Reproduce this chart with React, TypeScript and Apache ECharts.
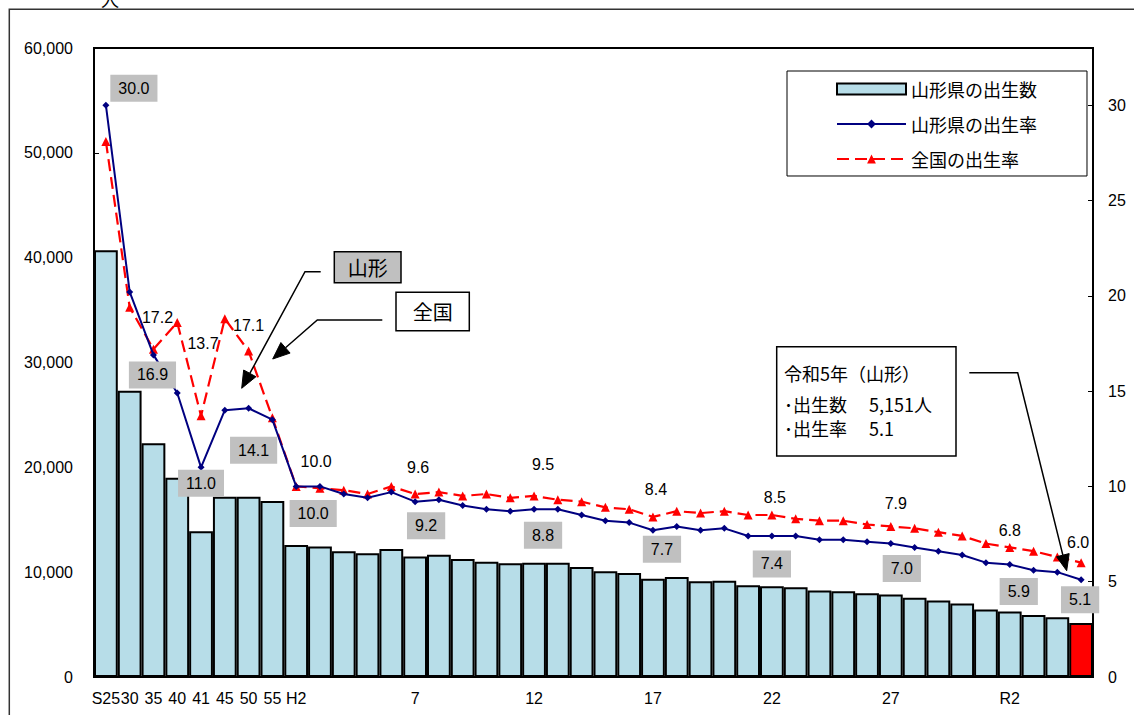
import React, { useEffect, useRef } from "react";
import * as echarts from "echarts";

const categories = [
  "S25", "30", "35", "40", "41", "45", "50", "55",
  "H2", "3", "4", "5", "6", "7", "8", "9", "10", "11", "12", "13", "14", "15", "16", "17", "18", "19", "20",
  "21", "22", "23", "24", "25", "26", "27", "28", "29", "30",
  "R1", "R2", "R3", "R4", "R5",
];

const births = [
  40700, 27300, 22300, 19000, 13900, 17200, 17200, 16800,
  12600, 12450, 12000, 11800, 12200, 11500, 11650, 11250, 11000, 10850, 10900, 10900, 10500, 10080, 9920,
  9380, 9540, 9130, 9190, 8750, 8650, 8560, 8240, 8170, 7980, 7860, 7550, 7290, 7000,
  6430, 6240, 5920, 5690, 5151,
];

const yamagataRate = [
  30.0, 20.2, 16.9, 14.9, 11.0, 14.0, 14.1, 13.5,
  10.0, 10.0, 9.6, 9.4, 9.7, 9.2, 9.3, 9.0, 8.8, 8.7, 8.8, 8.8, 8.5, 8.2, 8.1, 7.7, 7.9, 7.7, 7.8,
  7.4, 7.4, 7.4, 7.2, 7.2, 7.1, 7.0, 6.8, 6.6, 6.4,
  6.0, 5.9, 5.6, 5.5, 5.1,
];

const nationalRate = [
  28.1, 19.4, 17.2, 18.6, 13.7, 18.8, 17.1, 13.6,
  10.0, 9.9, 9.8, 9.6, 10.0, 9.6, 9.7, 9.5, 9.6, 9.4, 9.5, 9.3, 9.2, 8.9, 8.8, 8.4, 8.7, 8.6, 8.7,
  8.5, 8.5, 8.3, 8.2, 8.2, 8.0, 7.9, 7.8, 7.6, 7.4,
  7.0, 6.8, 6.6, 6.3, 6.0,
];

const seriesNames = ["山形県の出生数", "山形県の出生率", "全国の出生率"];

// label placement (offset of the label centre from its point)
const yamagataLabelOffsets: Record<number, [number, number]> = {
  0: [28, -17], 2: [-1, 20], 4: [0, 16], 6: [5, 42], 8: [17, 27], 13: [11, 24],
  18: [9, 26], 23: [9, 19], 28: [0, 28], 33: [11, 25], 38: [9, 27], 41: [-1, 20],
};
const nationalLabelOffsets: Record<number, [number, number]> = {
  2: [4, -32], 4: [2, -72], 6: [0, -26], 8: [20, -25], 13: [3, -27], 18: [9, -31],
  23: [3, -27], 28: [3, -17], 33: [5, -23], 38: [0, -17], 41: [-3, -20],
};

const FONT = "'Liberation Sans', 'Noto Sans CJK JP', sans-serif";
const JFONT = "'Noto Sans CJK JP', 'Liberation Sans', sans-serif";

function arrow(points: number[][], len: number, half: number) {
  const tip = points[points.length - 1];
  const from = points[points.length - 2];
  const dx = tip[0] - from[0];
  const dy = tip[1] - from[1];
  const d = Math.hypot(dx, dy);
  const ux = dx / d;
  const uy = dy / d;
  const bx = tip[0] - ux * len;
  const by = tip[1] - uy * len;
  const linePts = points.slice(0, -1).concat([[bx, by]]);
  const head = [
    [tip[0], tip[1]],
    [bx - uy * half, by + ux * half],
    [bx + uy * half, by - ux * half],
  ];
  return [
    { type: "polyline", z: 100, shape: { points: linePts }, style: { stroke: "#000", lineWidth: 1.5, fill: null } },
    { type: "polygon", z: 100, shape: { points: head }, style: { fill: "#000", stroke: "#000", lineWidth: 1 } },
  ];
}

export default function App() {
  const ref = useRef<HTMLDivElement>(null);

  useEffect(() => {
    if (!ref.current) return;
    const chart = echarts.init(ref.current, null, { renderer: "svg" });

    const barData = births.map((v, i) =>
      i === births.length - 1 ? { value: v, itemStyle: { color: "#ff0000" } } : v
    );

    const yamaData = yamagataRate.map((v, i) => {
      const off = yamagataLabelOffsets[i];
      if (!off) return v;
      return {
        value: v,
        label: {
          show: true,
          position: "inside",
          offset: off,
          formatter: (p: any) => Number(p.value).toFixed(1),
          backgroundColor: "#c0c0c0",
          padding: [6, 8, 5, 8],
          color: "#000",
          fontSize: 16,
          fontFamily: FONT,
        },
      };
    });

    const natData = nationalRate.map((v, i) => {
      const off = nationalLabelOffsets[i];
      if (!off) return v;
      return {
        value: v,
        label: {
          show: true,
          position: "inside",
          offset: off,
          formatter: (p: any) => Number(p.value).toFixed(1),
          color: "#000",
          fontSize: 16,
          fontFamily: FONT,
        },
      };
    });

    const graphics: any[] = [
      {
        type: "rect",
        z: 0,
        silent: true,
        shape: { x: 9.3, y: 9.3, width: 1300, height: 900 },
        style: { fill: null, stroke: "#333", lineWidth: 1.5 },
      },
      {
        type: "text",
        z: 100,
        x: 110,
        y: 8,
        style: { text: "人", fontSize: 18, fontFamily: JFONT, fill: "#000", align: "center", verticalAlign: "bottom" },
      },
      // 山形 box
      {
        type: "rect",
        z: 100,
        shape: { x: 334.3, y: 251.7, width: 66.7, height: 31 },
        style: { fill: "#c0c0c0", stroke: "#000", lineWidth: 1.5 },
      },
      {
        type: "text",
        z: 101,
        x: 367.7,
        y: 267.5,
        style: { text: "山形", fontSize: 20, fontFamily: JFONT, fill: "#000", align: "center", verticalAlign: "middle" },
      },
      ...arrow([[320.7, 271.7], [305, 271.7], [241.7, 388.3]], 17, 7),
      // 全国 box
      {
        type: "rect",
        z: 100,
        shape: { x: 396, y: 292.3, width: 73.3, height: 38.4 },
        style: { fill: "#fff", stroke: "#000", lineWidth: 1.5 },
      },
      {
        type: "text",
        z: 101,
        x: 432.7,
        y: 311.5,
        style: { text: "全国", fontSize: 20, fontFamily: JFONT, fill: "#000", align: "center", verticalAlign: "middle" },
      },
      ...arrow([[382.3, 320], [317.3, 320], [272.7, 359]], 17, 7),
      // 令和5年 box
      {
        type: "rect",
        z: 100,
        shape: { x: 776.7, y: 346.7, width: 179.3, height: 109.3 },
        style: { fill: "#fff", stroke: "#000", lineWidth: 1.5 },
      },
      {
        type: "text",
        z: 101,
        x: 784,
        y: 373,
        style: { text: "令和5年（山形）", fontSize: 18, fontFamily: JFONT, fill: "#000", align: "left", verticalAlign: "middle" },
      },
      {
        type: "text",
        z: 101,
        x: 784,
        y: 403.5,
        style: { text: "･出生数　 5,151人", fontSize: 18, fontFamily: JFONT, fill: "#000", align: "left", verticalAlign: "middle" },
      },
      {
        type: "text",
        z: 101,
        x: 784,
        y: 427.5,
        style: { text: "･出生率　 5.1", fontSize: 18, fontFamily: JFONT, fill: "#000", align: "left", verticalAlign: "middle" },
      },
      ...arrow([[969.3, 372.7], [1017.7, 372.7], [1066.7, 570.7]], 16, 6.5),
    ];

    chart.setOption({
      animation: false,
      backgroundColor: "#fff",
      textStyle: { fontFamily: FONT, color: "#000" },
      grid: {
        left: 94,
        right: 41,
        top: 48,
        bottom: 38,
        show: true,
        borderColor: "#000",
        borderWidth: 2,
        backgroundColor: "transparent",
      },
      legend: {
        orient: "vertical",
        left: 787,
        top: 71,
        data: [{ name: seriesNames[0], icon: "rect" }, { name: seriesNames[1] }, { name: seriesNames[2] }],
        itemWidth: 69,
        itemHeight: 11,
        itemGap: 17,
        padding: [9, 50, 8, 49],
        borderColor: "#000",
        borderWidth: 1,
        backgroundColor: "#fff",
        textStyle: { fontSize: 18, fontFamily: JFONT, color: "#000" },
        z: 50,
      },
      xAxis: {
        type: "category",
        data: categories,
        axisLine: { show: true, lineStyle: { color: "#000", width: 2 } },
        axisTick: { show: false },
        axisLabel: {
          interval: (index: number) => index <= 8 || (index - 8) % 5 === 0,
          fontSize: 16,
          color: "#000",
          margin: 13,
          fontFamily: FONT,
        },
        splitLine: { show: false },
      },
      yAxis: [
        {
          type: "value",
          min: 0,
          max: 60000,
          interval: 10000,
          axisLine: { show: true, lineStyle: { color: "#000", width: 2 } },
          axisTick: { show: true, inside: true, length: 5, lineStyle: { color: "#000", width: 1 } },
          axisLabel: {
            fontSize: 16,
            color: "#000",
            margin: 21,
            fontFamily: FONT,
            formatter: (v: number) => v.toLocaleString("en-US"),
          },
          splitLine: { show: false },
        },
        {
          type: "value",
          min: 0,
          max: 33,
          interval: 5,
          position: "right",
          axisLine: { show: true, lineStyle: { color: "#000", width: 2 } },
          axisTick: { show: true, inside: true, length: 5, lineStyle: { color: "#000", width: 1 } },
          axisLabel: {
            fontSize: 16,
            color: "#000",
            margin: 15,
            fontFamily: FONT,
            showMaxLabel: false,
            formatter: (v: number) => (v % 5 === 0 ? String(v) : ""),
          },
          splitLine: { show: false },
        },
      ],
      series: [
        {
          name: seriesNames[0],
          type: "bar",
          data: barData,
          yAxisIndex: 0,
          barCategoryGap: "0%",
          itemStyle: { color: "#b7dde8", borderColor: "#000", borderWidth: 2 },
          z: 2,
        },
        {
          name: seriesNames[1],
          type: "line",
          data: yamaData,
          yAxisIndex: 1,
          symbol: "diamond",
          symbolSize: 7,
          lineStyle: { color: "#000080", width: 2 },
          itemStyle: { color: "#000080" },
          label: { show: false },
          z: 4,
        },
        {
          name: seriesNames[2],
          type: "line",
          data: natData,
          yAxisIndex: 1,
          symbol: "triangle",
          symbolSize: 9,
          lineStyle: { color: "#ff0000", width: 2.2, type: [12, 6] },
          itemStyle: { color: "#ff0000" },
          label: { show: false },
          z: 3,
        },
      ],
      graphic: graphics,
    });

    return () => chart.dispose();
  }, []);

  return (
    <div
      ref={ref}
      style={{ position: "fixed", left: 0, top: 0, width: 1134, height: 715, background: "#fff" }}
    />
  );
}
